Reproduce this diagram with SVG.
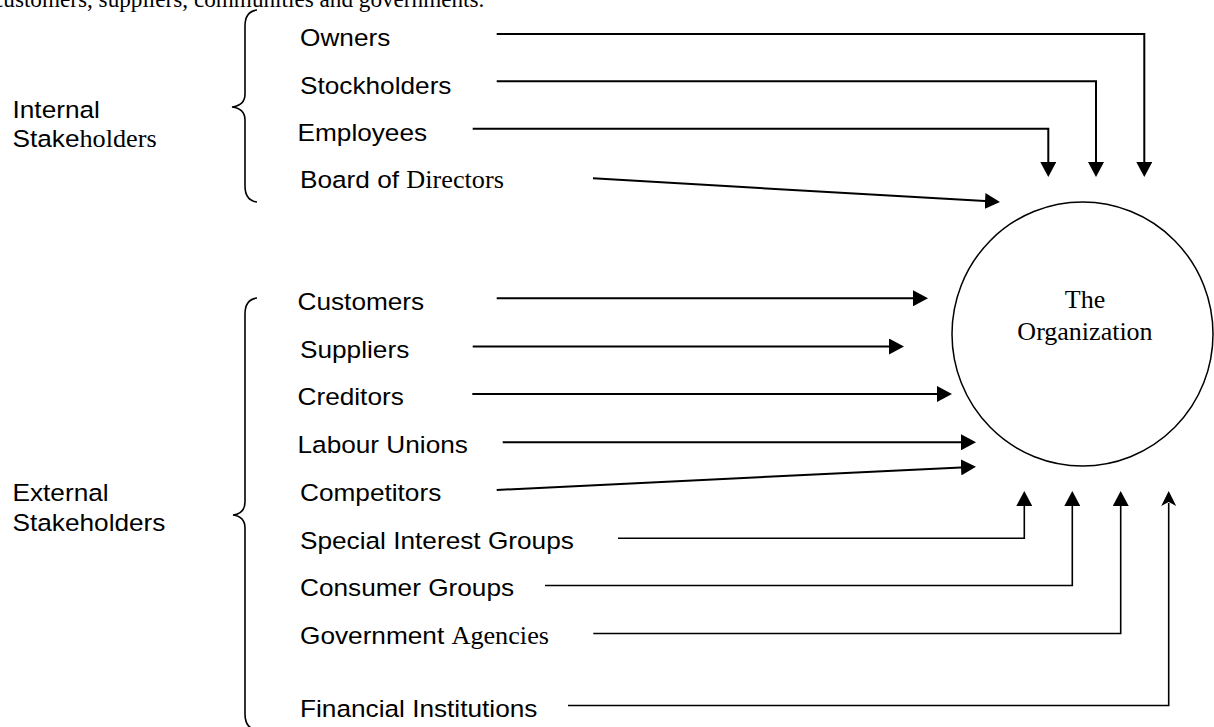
<svg xmlns="http://www.w3.org/2000/svg" width="1214" height="727" viewBox="0 0 1214 727">
  <style>
    .sans { font-family: "Liberation Sans", Arial, sans-serif; font-size: 24.5px; fill: #000; }
    .serif { font-family: "Liberation Serif", "Times New Roman", serif; }
    .lead { font-family: "Liberation Serif", "Times New Roman", serif; font-size: 23.2px; fill: #000; }
    .org { font-family: "Liberation Serif", "Times New Roman", serif; font-size: 26px; fill: #000; text-anchor: middle; }
    .brace { fill: none; stroke: #000; stroke-width: 1.6; }
    .link { fill: none; stroke: #000; stroke-width: 2; }
    .thin { stroke-width: 1.6; }
  </style>
  <defs>
    <marker id="head" markerUnits="userSpaceOnUse" viewBox="0 0 15 16" markerWidth="15" markerHeight="16" refX="0" refY="8" orient="auto">
      <path d="M0,0 L15,8 L0,16 Z" fill="#000"/>
    </marker>
    <marker id="notch" markerUnits="userSpaceOnUse" viewBox="0 0 15 16" markerWidth="15" markerHeight="16" refX="3" refY="8" orient="auto">
      <path d="M0,0.5 L15,8 L0,15.5 L4,8 Z" fill="#000"/>
    </marker>
  </defs>

  <rect width="1214" height="727" fill="#fff"/>

  <!-- running text line above the figure -->
  <text class="lead" x="-7" y="7">customers, suppliers, communities and governments.</text>

  <!-- group labels and braces -->
  <g id="internal-group">
    <text class="sans" transform="matrix(1.07 0 0 1 12.5 117.5)">Internal</text>
    <text class="sans" transform="matrix(1.07 0 0 1 12.5 146.5)">Stake<tspan class="serif">holders</tspan></text>
    <path class="brace" d="M257,10 C249,11 245,16 245,26 V94 C245,102 240,106 232,107 C240,108 245,112 245,120 V186 C245,196 249,201 257,202"/>
  </g>
  <g id="external-group">
    <text class="sans" transform="matrix(1.07 0 0 1 12.5 500.5)">External</text>
    <text class="sans" transform="matrix(1.07 0 0 1 12.5 530.5)">Stakeholders</text>
    <path class="brace" d="M257,298 C249,299 245,304 245,314 V502 C245,510 241,514 233,515 C241,516 245,520 245,528 V714 C245,724 249,729 257,730"/>
  </g>

  <!-- stakeholder nodes -->
  <g id="owners"><text class="sans" transform="matrix(1.07 0 0 1 300 46)">Owners</text></g>
  <g id="stockholders"><text class="sans" transform="matrix(1.07 0 0 1 300 93.5)">Stockholders</text></g>
  <g id="employees"><text class="sans" transform="matrix(1.07 0 0 1 297.5 140.5)">Employees</text></g>
  <g id="board"><text class="sans" transform="matrix(1.07 0 0 1 300 187.5)">Board of <tspan class="serif">Directors</tspan></text></g>

  <g id="customers"><text class="sans" transform="matrix(1.07 0 0 1 297.5 309.5)">Customers</text></g>
  <g id="suppliers"><text class="sans" transform="matrix(1.07 0 0 1 300 357.5)">Suppliers</text></g>
  <g id="creditors"><text class="sans" transform="matrix(1.07 0 0 1 297.5 405)">Creditors</text></g>
  <g id="labour-unions"><text class="sans" transform="matrix(1.07 0 0 1 297.5 452.5)">Labour Unions</text></g>
  <g id="competitors"><text class="sans" transform="matrix(1.07 0 0 1 300 500.5)">Competitors</text></g>
  <g id="special-interest"><text class="sans" transform="matrix(1.07 0 0 1 300 548.5)">Special Interest Groups</text></g>
  <g id="consumer-groups"><text class="sans" transform="matrix(1.07 0 0 1 300 596)">Consumer Groups</text></g>
  <g id="government"><text class="sans" transform="matrix(1.07 0 0 1 300 644)">Government <tspan class="serif">Agencies</tspan></text></g>
  <g id="financial"><text class="sans" transform="matrix(1.07 0 0 1 300 716.5)">Financial Institutions</text></g>

  <!-- central node -->
  <g id="organization">
    <ellipse cx="1082.5" cy="334" rx="130.5" ry="132" fill="none" stroke="#000" stroke-width="1.5"/>
    <text class="org" x="1085" y="307.5">The</text>
    <text class="org" x="1085" y="339.5">Organization</text>
  </g>

  <!-- connectors -->
  <g id="connectors">
    <path class="link" marker-end="url(#head)" d="M496.7,34 H1144.3 V162"/>
    <path class="link" marker-end="url(#head)" d="M496.7,81.3 H1096 V162"/>
    <path class="link" marker-end="url(#head)" d="M472.7,128.7 H1048.3 V162"/>
    <path class="link" marker-end="url(#head)" d="M593,178.3 L985,201.1"/>

    <path class="link" marker-end="url(#head)" d="M496.7,298.3 H913"/>
    <path class="link" marker-end="url(#head)" d="M472.7,346.5 H889"/>
    <path class="link" marker-end="url(#head)" d="M472.3,394 H937"/>
    <path class="link" marker-end="url(#head)" d="M502.7,442.3 H961"/>
    <path class="link" marker-end="url(#head)" d="M496.7,490 L961,467.4"/>

    <path class="link thin" marker-end="url(#head)" d="M618,538.3 H1024.3 V506"/>
    <path class="link thin" marker-end="url(#head)" d="M545,585.5 H1072.3 V506"/>
    <path class="link thin" marker-end="url(#head)" d="M593.3,633.5 H1120.7 V506"/>
    <path class="link thin" marker-end="url(#notch)" d="M568,705.5 H1168.7 V503"/>
  </g>
</svg>
